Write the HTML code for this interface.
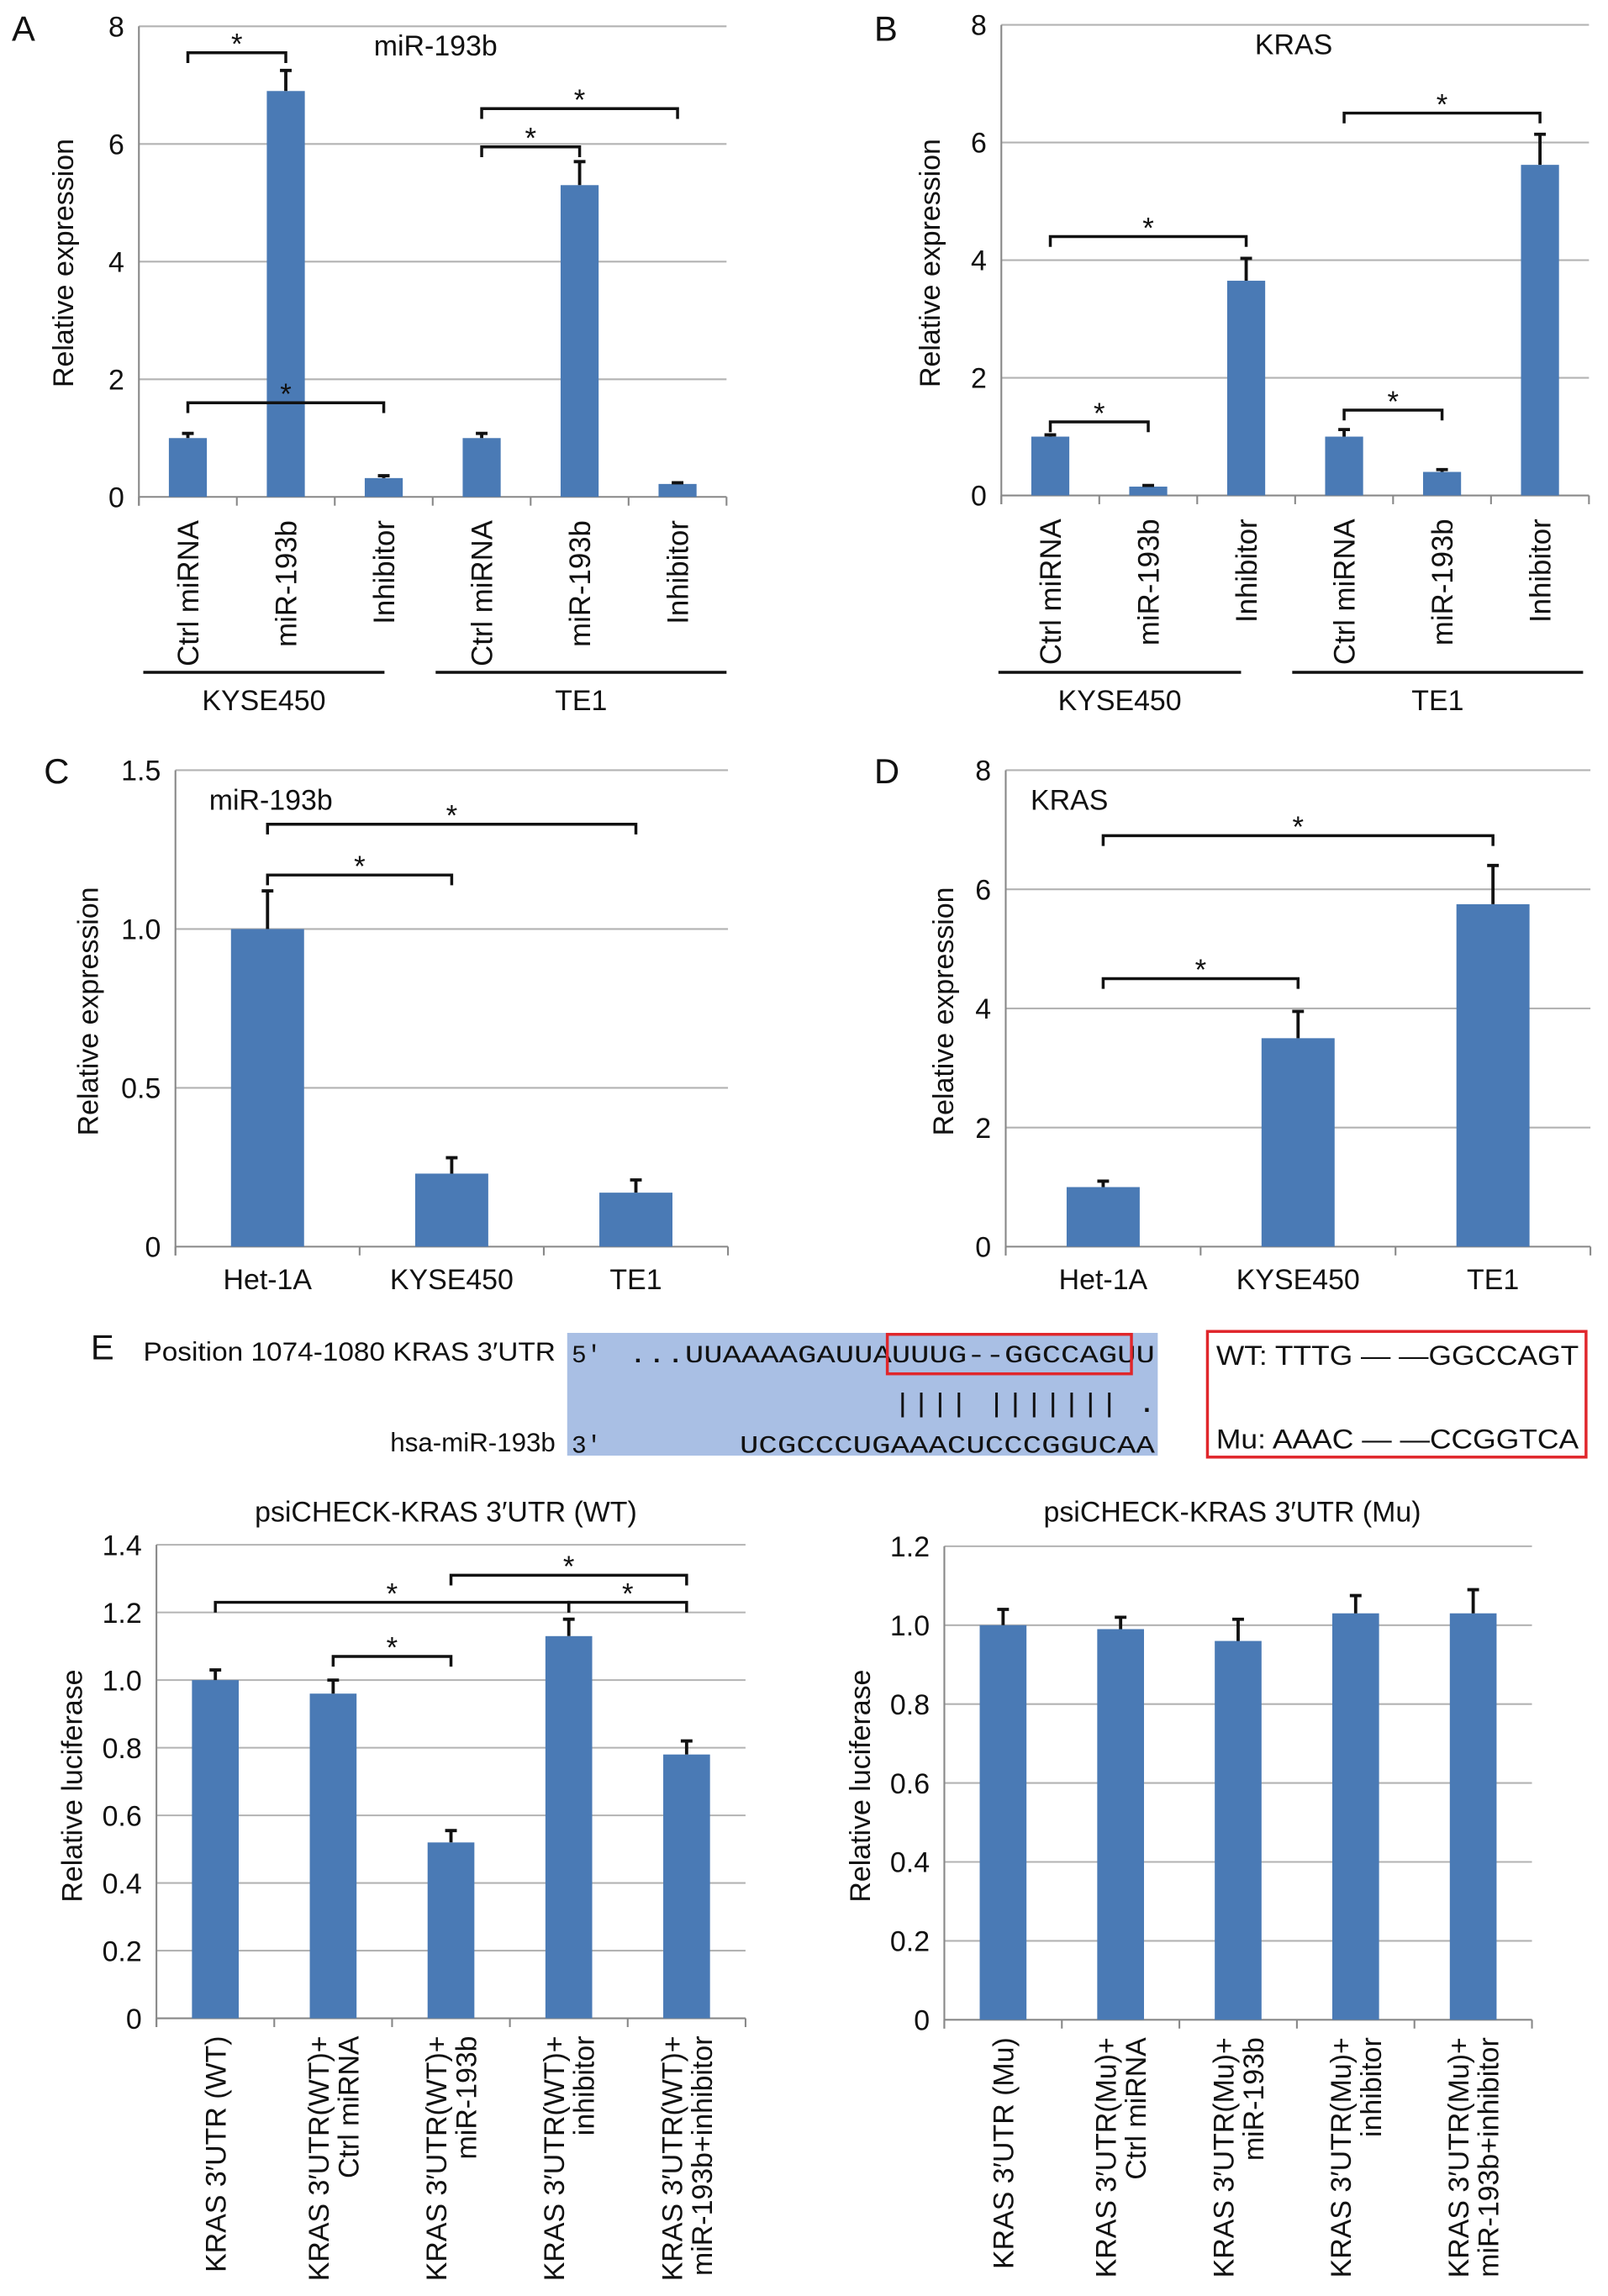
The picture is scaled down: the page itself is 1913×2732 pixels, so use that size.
<!DOCTYPE html>
<html><head><meta charset="utf-8"><style>
html,body{margin:0;padding:0;background:#fff}
svg{display:block}
text{font-family:"Liberation Sans",sans-serif;fill:#111}
</style></head><body>
<svg id="fig" width="1913" height="2732" viewBox="0 0 1100 1571" xmlns="http://www.w3.org/2000/svg">
<text x="8" y="28" font-size="24">A</text>
<text x="598" y="28" font-size="24">B</text>
<text x="30" y="536" font-size="24">C</text>
<text x="598" y="536" font-size="24">D</text>
<g>
<text x="62" y="930" font-size="24">E</text>
<text x="380" y="931" font-size="18" text-anchor="end" textLength="282" lengthAdjust="spacingAndGlyphs">Position 1074-1080 KRAS 3′UTR</text>
<text x="380" y="993" font-size="18" text-anchor="end">hsa-miR-193b</text>
<rect x="388" y="912" width="404" height="84" fill="#a9bfe4"/>
<text x="391" y="932" font-size="17" style="font-family:'Liberation Mono',monospace">5'</text>
<text x="430" y="932" font-size="17" style="font-family:'Liberation Mono',monospace" textLength="360" lengthAdjust="spacingAndGlyphs">...UUAAAAGAUUAUUUG--GGCCAGUU</text>
<rect x="607" y="913" width="167" height="27" fill="none" stroke="#e0262b" stroke-width="2"/>
<text x="611" y="966" font-size="18" style="font-family:'Liberation Mono',monospace" textLength="180" lengthAdjust="spacingAndGlyphs">||||  ||||||| .</text>
<text x="391" y="994" font-size="17" style="font-family:'Liberation Mono',monospace">3'</text>
<text x="506" y="994" font-size="17" style="font-family:'Liberation Mono',monospace" textLength="284" lengthAdjust="spacingAndGlyphs">UCGCCCUGAAACUCCCGGUCAA</text>
<rect x="826" y="911" width="259" height="86" fill="none" stroke="#e0262b" stroke-width="2"/>
<text x="832" y="934" font-size="18.5" textLength="248" lengthAdjust="spacingAndGlyphs">WT: TTTG — —GGCCAGT</text>
<text x="832" y="991" font-size="18.5" textLength="248" lengthAdjust="spacingAndGlyphs">Mu: AAAC — —CCGGTCA</text>
</g>
</svg>
<script>
const NS="http://www.w3.org/2000/svg";
const svg=document.getElementById('fig');
// ---- data ----
const aCats=["Ctrl miRNA","miR-193b","Inhibitor","Ctrl miRNA","miR-193b","Inhibitor"];
const aVals=[1.0,6.9,0.32,1.0,5.3,0.22];
const aErr=[0.08,0.35,0.04,0.08,0.4,0.02];
const aTicks=["0","2","4","6","8"];
const bCats=["Ctrl miRNA","miR-193b","Inhibitor","Ctrl miRNA","miR-193b","Inhibitor"];
const bVals=[1.0,0.15,3.65,1.0,0.4,5.62];
const bErr=[0.03,0.02,0.38,0.12,0.04,0.52];
const bTicks=["0","2","4","6","8"];
const cCats=["Het-1A","KYSE450","TE1"];
const cVals=[1.0,0.23,0.17];
const cErr=[0.12,0.05,0.04];
const cTicks=["0","0.5","1.0","1.5"];
const dCats=["Het-1A","KYSE450","TE1"];
const dVals=[1.0,3.5,5.75];
const dErr=[0.1,0.45,0.65];
const dTicks=["0","2","4","6","8"];
const eCats=[["KRAS 3′UTR (WT)"],["KRAS 3′UTR(WT)+","Ctrl miRNA"],["KRAS 3′UTR(WT)+","miR-193b"],["KRAS 3′UTR(WT)+","inhibitor"],["KRAS 3′UTR(WT)+","miR-193b+inhibitor"]];
const eVals=[1.0,0.96,0.52,1.13,0.78];
const eErr=[0.03,0.04,0.035,0.05,0.04];
const eTicks=["0","0.2","0.4","0.6","0.8","1.0","1.2","1.4"];
const fCats=[["KRAS 3′UTR (Mu)"],["KRAS 3′UTR(Mu)+","Ctrl miRNA"],["KRAS 3′UTR(Mu)+","miR-193b"],["KRAS 3′UTR(Mu)+","inhibitor"],["KRAS 3′UTR(Mu)+","miR-193b+inhibitor"]];
const fVals=[1.0,0.99,0.96,1.03,1.03];
const fErr=[0.04,0.03,0.055,0.045,0.06];
const fTicks=["0","0.2","0.4","0.6","0.8","1.0","1.2"];
// brackets: [i,j,level value]
const aBr=[[0,1,7.55],[0,2,1.6],[3,4,5.95],[3,5,6.6]];
const bBr=[[0,1,1.25],[0,2,4.4],[3,4,1.45],[3,5,6.5]];
const cBr=[[0,1,1.17],[0,2,1.33]];
const dBr=[[0,1,4.5],[0,2,6.9]];
const eBr=[[0,3,1.23],[1,2,1.07],[2,4,1.31],[3,4,1.23]];

function el(tag,attrs,parent){const e=document.createElementNS(NS,tag);for(const k in attrs)e.setAttribute(k,attrs[k]);(parent||svg).appendChild(e);return e;}

function chart(o){
  const g=el('g',{});
  
  
  const n=o.vals.length, max=parseFloat(o.ticks[o.ticks.length-1]);
  const y=v=>o.y0-(v/max)*(o.y0-o.y1);
  const step=(o.x1-o.x0)/n;
  const x=i=>o.x0+step*(i+0.5);
  o.ticks.forEach(t=>{
    const v=parseFloat(t);
    const gl=el('line',{x1:o.x0,x2:o.x1,y1:y(v),y2:y(v),stroke:v===0?'#888':'#b3b3b3','stroke-width':1.2},g);
    
    
    const tl=el('text',{x:o.x0-10,y:y(v)+7,'font-size':o.fs,'text-anchor':'end'},g);
    tl.textContent=t;
    
    
  });
  el('line',{x1:o.x0,x2:o.x0,y1:o.y1,y2:o.y0+6,stroke:'#888','stroke-width':1.2},g);
  for(let i=0;i<=n;i++){el('line',{x1:o.x0+step*i,x2:o.x0+step*i,y1:o.y0,y2:o.y0+6,stroke:'#888','stroke-width':1.2},g);}
  o.vals.forEach((v,i)=>{
    const b=el('rect',{x:x(i)-o.bw/2,y:y(v),width:o.bw,height:o.y0-y(v),fill:'#4a7ab5'},g);
    
    
    const top=y(v+o.err[i]);
    const e=el('path',{d:`M${x(i)} ${y(v)}V${top}M${x(i)-4} ${top}H${x(i)+4}`,stroke:'#111','stroke-width':2.2,fill:'none'},g);
    
    
  });
  o.cats.forEach((c,i)=>{
    if(o.rot){
      const lines=Array.isArray(c)?c:[c];
      lines.forEach((s,k)=>{
        const dx=x(i)+o.lfs*0.36+(k-(lines.length-1)/2)*o.lfs*1.05;
        const yy=o.y0+o.loff;
        const t=el('text',{x:dx,y:yy,'font-size':o.lfs,'text-anchor':'end',transform:`rotate(-90 ${dx} ${yy})`},g);
        t.textContent=s;
        
        
      });
    } else {
      const t=el('text',{x:x(i),y:o.y0+29,'font-size':o.lfs,'text-anchor':'middle'},g);
      t.textContent=c;
      
      
    }
  });
  (o.br||[]).forEach(b=>{
    const yy=y(b[2]);
    const p=el('path',{d:`M${x(b[0])} ${yy+7}V${yy}H${x(b[1])}V${yy+7}`,stroke:'#111','stroke-width':2,fill:'none'},g);
    
    
    const s=el('text',{x:(x(b[0])+x(b[1]))/2,y:yy+1,'font-size':20,'text-anchor':'middle',fill:'#555'},g);
    s.textContent='*';
    
    
  });
  const yt=el('text',{x:o.ytx,y:o.yty,'font-size':o.fs,'text-anchor':'middle',transform:`rotate(-90 ${o.ytx} ${o.yty})`},g);
  yt.textContent=o.ytitle;
  
  
  const tt=el('text',{x:o.tx,y:o.ty,'font-size':o.fs,'text-anchor':o.ta||'middle'},g);
  tt.textContent=o.title;
  
  
  (o.groups||[]).forEach(gr=>{
    el('line',{x1:gr[0],x2:gr[1],y1:o.gy,y2:o.gy,stroke:'#111','stroke-width':2},g);
    const t=el('text',{x:(gr[0]+gr[1])/2,y:o.gy+26,'font-size':o.fs,'text-anchor':'middle'},g);
    t.textContent=gr[2];
    
    
  });
}
chart({name:'chart-a',cats:aCats,vals:aVals,err:aErr,ticks:aTicks,br:aBr,x0:95,x1:497,y0:340,y1:18,bw:26,fs:19.5,lfs:20,loff:16,rot:true,ytitle:'Relative expression',ytx:50,yty:180,title:'miR-193b',tx:298,ty:38,groups:[[98,263,'KYSE450'],[298,497,'TE1']],gy:460});
chart({name:'chart-b',cats:bCats,vals:bVals,err:bErr,ticks:bTicks,br:bBr,x0:685,x1:1087,y0:339,y1:17,bw:26,fs:19.5,lfs:20,loff:16,rot:true,ytitle:'Relative expression',ytx:643,yty:180,title:'KRAS',tx:885,ty:37,groups:[[683,849,'KYSE450'],[884,1083,'TE1']],gy:460});
chart({name:'chart-c',cats:cCats,vals:cVals,err:cErr,ticks:cTicks,br:cBr,x0:120,x1:498,y0:853,y1:527,bw:50,fs:19.5,lfs:19.5,rot:false,ytitle:'Relative expression',ytx:67,yty:692,title:'miR-193b',tx:143,ty:554,ta:'start'});
chart({name:'chart-d',cats:dCats,vals:dVals,err:dErr,ticks:dTicks,br:dBr,x0:688,x1:1088,y0:853,y1:527,bw:50,fs:19.5,lfs:19.5,rot:false,ytitle:'Relative expression',ytx:652,yty:692,title:'KRAS',tx:705,ty:554,ta:'start'});
chart({name:'chart-e-wt',cats:eCats,vals:eVals,err:eErr,ticks:eTicks,br:eBr,x0:107,x1:510,y0:1381,y1:1057,bw:32,fs:19.5,lfs:19.5,loff:12,rot:true,ytitle:'Relative luciferase',ytx:56,yty:1222,title:'psiCHECK-KRAS 3′UTR (WT)',tx:305,ty:1041});
chart({name:'chart-e-mu',cats:fCats,vals:fVals,err:fErr,ticks:fTicks,x0:646,x1:1048,y0:1382,y1:1058,bw:32,fs:19.5,lfs:19.5,loff:12,rot:true,ytitle:'Relative luciferase',ytx:595,yty:1222,title:'psiCHECK-KRAS 3′UTR (Mu)',tx:843,ty:1041});
</script>
</body></html>
